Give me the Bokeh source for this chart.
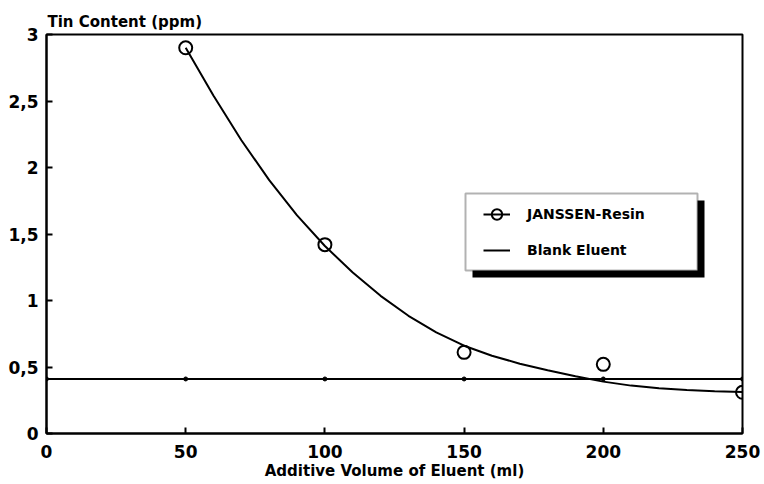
from bokeh.plotting import figure
from bokeh.models import (Range1d, Legend, LegendItem, BoxAnnotation, Title,
                          FixedTicker, CustomJSTickFormatter)
from bokeh.embed import file_html
from bokeh.resources import INLINE

# ---- data ----
resin_volume = [50, 100, 150, 200, 250]
resin_tin = [2.90, 1.42, 0.61, 0.52, 0.31]

fit_volume = [50, 60, 70, 80, 90, 100, 110, 120, 130, 140, 150, 160, 170,
              180, 190, 200, 210, 220, 230, 240, 250]
fit_tin = [2.90, 2.54, 2.205, 1.905, 1.64, 1.41, 1.21, 1.035, 0.885, 0.76, 0.66,
           0.585, 0.525, 0.475, 0.43, 0.39, 0.36, 0.34, 0.327, 0.318, 0.312]

blank_volume = [0, 50, 100, 150, 200, 250]
blank_tin = [0.41, 0.41, 0.41, 0.41, 0.41, 0.41]

x_ticks = [0, 50, 100, 150, 200, 250]
y_ticks = [0, 0.5, 1, 1.5, 2, 2.5, 3]

FONT = "DejaVu Sans"

p = figure(width=764, height=484, output_backend="svg", toolbar_location=None,
           x_range=Range1d(0, 250), y_range=Range1d(0, 3),
           min_border_left=46, min_border_right=22, min_border_top=34,
           min_border_bottom=51)
p.title = Title(text="Tin Content (ppm)", align="left", offset=1, standoff=8,
                text_font=FONT, text_font_style="bold", text_font_size="15px",
                text_color="black")
p.background_fill_color = "white"
p.border_fill_color = "white"
p.grid.visible = False
p.outline_line_color = "black"
p.outline_line_width = 2

for ax in (p.xaxis[0], p.yaxis[0]):
    ax.axis_line_width = 2
    ax.axis_line_color = "black"
    ax.major_tick_line_width = 2
    ax.major_tick_line_color = "black"
    ax.major_tick_in = 6
    ax.major_tick_out = 0
    ax.minor_tick_line_color = None
    ax.major_label_text_font = FONT
    ax.major_label_text_font_style = "bold"
    ax.major_label_text_font_size = "17px"
    ax.major_label_text_color = "black"

p.xaxis.ticker = FixedTicker(ticks=x_ticks)
p.yaxis.ticker = FixedTicker(ticks=y_ticks)
p.yaxis.formatter = CustomJSTickFormatter(code="return tick.toString().replace('.', ',');")
p.xaxis.major_label_standoff = 11
p.yaxis.major_label_standoff = 8

p.xaxis.axis_label = "Additive Volume of Eluent (ml)"
p.xaxis.axis_label_text_font = FONT
p.xaxis.axis_label_text_font_style = "bold"
p.xaxis.axis_label_text_font_size = "15px"
p.xaxis.axis_label_text_color = "black"
p.xaxis.axis_label_standoff = 1

# ---- series ----
fit_line = p.line(fit_volume, fit_tin, line_color="black", line_width=2)
resin_pts = p.scatter(resin_volume, resin_tin, marker="circle", size=13,
                      fill_color=None, line_color="black", line_width=2)
blank_line = p.line(blank_volume, blank_tin, line_color="black", line_width=2)
blank_pts = p.scatter(blank_volume, blank_tin, marker="circle", size=4,
                      fill_color="black", line_color="black")

# ---- legend box with drop shadow (positions in page pixels -> data) ----
def xd(px):
    return (px - 46) / 696 * 250

def yd(py):
    return (433 - py) / 399 * 3

p.add_layout(BoxAnnotation(left=xd(472), right=xd(704), top=yd(200), bottom=yd(277),
                           fill_color="black", fill_alpha=1, line_color=None))
p.add_layout(BoxAnnotation(left=xd(465), right=xd(697), top=yd(193), bottom=yd(270),
                           fill_color="white", fill_alpha=1, line_color="black",
                           line_width=2))

legend = Legend(items=[LegendItem(label="JANSSEN-Resin", renderers=[fit_line, resin_pts]),
                       LegendItem(label="Blank Eluent", renderers=[blank_line])],
                location=(437, 170), orientation="vertical",
                border_line_color=None, background_fill_alpha=0,
                padding=0, margin=0, spacing=10,
                glyph_width=27, glyph_height=26, label_height=26, label_standoff=17,
                label_text_font=FONT, label_text_font_style="bold",
                label_text_font_size="14px", label_text_color="black")
p.add_layout(legend)

open("out.html", "w").write(file_html(p, INLINE))
